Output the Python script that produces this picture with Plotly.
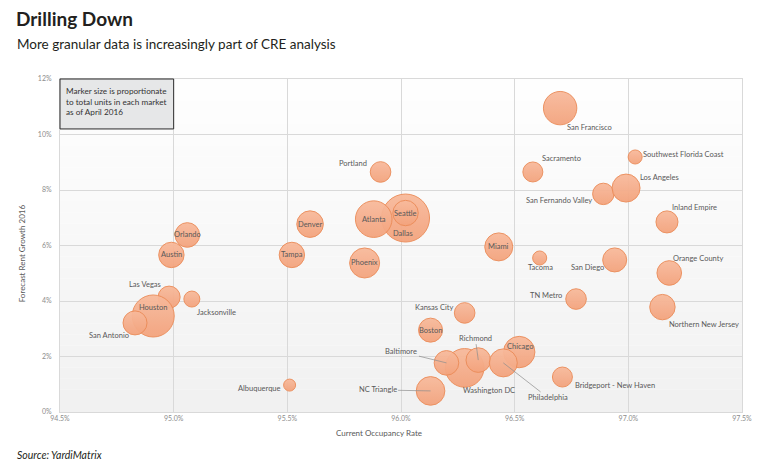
import plotly.graph_objects as go

# market data
markets = ["San Francisco", "Southwest Florida Coast", "Sacramento", "San Fernando Valley",
           "Los Angeles", "Inland Empire", "Miami", "Tacoma", "San Diego", "Orange County",
           "TN Metro", "Northern New Jersey", "Kansas City", "Boston", "Chicago",
           "Washington DC", "Baltimore", "Richmond", "Philadelphia", "Bridgeport - New Haven",
           "NC Triangle", "Albuquerque", "Las Vegas", "Houston", "San Antonio", "Jacksonville",
           "Austin", "Orlando", "Tampa", "Denver", "Phoenix", "Dallas", "Atlanta", "Seattle",
           "Portland"]
occupancy = [96.70, 97.03, 96.58, 96.89,
             96.99, 97.17, 96.43, 96.61, 96.94, 97.18,
             96.77, 97.15, 96.28, 96.13, 96.52,
             96.28, 96.20, 96.34, 96.45, 96.71,
             96.13, 95.51, 94.98, 94.91, 94.83, 95.08,
             94.99, 95.06, 95.52, 95.60, 95.84, 96.02, 95.88, 96.02,
             95.91]
rent_growth = [10.95, 9.19, 8.65, 7.86,
               8.07, 6.85, 5.95, 5.55, 5.48, 5.01,
               4.07, 3.78, 3.57, 2.95, 2.16,
               1.59, 1.77, 1.87, 1.77, 1.26,
               0.76, 0.97, 4.14, 3.46, 3.21, 4.07,
               5.66, 6.38, 5.66, 6.77, 5.37, 6.99, 6.95, 7.17,
               8.65]
units_k = [418, 74, 150, 172,
           294, 182, 294, 74, 216, 227,
           159, 242, 159, 216, 370,
           559, 227, 227, 294, 150,
           307, 54, 182, 662, 216, 96,
           242, 227, 242, 265, 338, 864, 502, 242,
           159]

x_ticks = [94.5, 95.0, 95.5, 96.0, 96.5, 97.0, 97.5]
y_ticks = [0, 2, 4, 6, 8, 10, 12]

# label placement: (xanchor, xshift, yshift) in px
label_pos = {
    "San Francisco": ("left", 5, -19), "Southwest Florida Coast": ("left", 6, 2),
    "Sacramento": ("left", 7, 13), "San Fernando Valley": ("right", -9, -7),
    "Los Angeles": ("left", 12, 11), "Inland Empire": ("left", 3, 14),
    "Miami": ("center", 0, 0), "Tacoma": ("center", 1, -10),
    "San Diego": ("right", -9, -8), "Orange County": ("left", 2, 14),
    "TN Metro": ("right", -12, 4), "Northern New Jersey": ("left", 5, -17),
    "Kansas City": ("right", -9, 5), "Boston": ("center", 0, 0),
    "Chicago": ("center", 1, 6), "Washington DC": ("center", 24, -23),
    "Bridgeport - New Haven": ("left", 11, -8), "Albuquerque": ("right", -7, -3),
    "Las Vegas": ("right", -6, 13), "Houston": ("center", 0, 8),
    "San Antonio": ("right", -4, -13), "Jacksonville": ("left", 3, -13),
    "Austin": ("center", 0, 0), "Orlando": ("center", 0, 0), "Tampa": ("center", 0, 0),
    "Denver": ("center", 0, 0), "Phoenix": ("center", 0, 0), "Dallas": ("center", -3, -15),
    "Atlanta": ("center", 0, 0), "Seattle": ("center", 0, 0), "Portland": ("right", -12, 8),
}
# labels with leader lines: (ax, ay) in px, screen direction
leader_pos = {
    "Baltimore": (-45, -11), "Richmond": (-3, -22),
    "Philadelphia": (45, 35), "NC Triangle": (-53, -1),
}

label_font = dict(family="Lato", size=7.5, color="#595959")

# page has an 8px body margin, so the figure is drawn 8px smaller and offset
W, H = 756, 461

fig = go.Figure()

fig.add_trace(go.Scatter(
    x=occupancy, y=rent_growth, mode="markers",
    marker=dict(size=units_k, sizemode="area", sizeref=0.75,
                color="#F8BA9C", opacity=0.95,
                gradient=dict(type="vertical", color="#F3A37D"),
                line=dict(color="#EC8D5A", width=1)),
    hoverinfo="skip", showlegend=False,
))

annos = []
for i, m in enumerate(markets):
    if m in leader_pos:
        ax, ay = leader_pos[m]
        annos.append(dict(x=occupancy[i], y=rent_growth[i], text=m, showarrow=True,
                          arrowhead=0, arrowwidth=0.7, arrowcolor="#8c8c8c",
                          ax=ax, ay=ay, font=label_font))
    else:
        xa, dx, dy = label_pos[m]
        annos.append(dict(x=occupancy[i], y=rent_growth[i], text=m, showarrow=False,
                          xanchor=xa, yanchor="middle", xshift=dx, yshift=dy,
                          font=label_font))

# note box
annos.append(dict(xref="x domain", yref="y domain", x=0.006, y=0.985, xanchor="left",
                  yanchor="top", align="left", showarrow=False,
                  text="Marker size is proportionate<br>to total units in each market<br>as of April 2016",
                  font=dict(family="Lato", size=8.2, color="#333333")))
# subtitle, source, axis titles
annos.append(dict(xref="paper", yref="paper", x=-45 / 685, y=1.105, xanchor="left",
                  yanchor="middle", showarrow=False,
                  text="More granular data is increasingly part of CRE analysis",
                  font=dict(family="Lato", size=13.5, color="#231F20")))
annos.append(dict(xref="paper", yref="paper", x=-45 / 685, y=-0.129, xanchor="left",
                  yanchor="middle", showarrow=False, text="<i>Source: YardiMatrix</i>",
                  font=dict(family="Lato", size=10.5, color="#231F20")))
annos.append(dict(xref="paper", yref="paper", x=(380 - 60) / 685, y=-0.063,
                  xanchor="center", yanchor="middle", showarrow=False,
                  text="Current Occupancy Rate",
                  font=dict(family="Lato", size=8, color="#595959")))
annos.append(dict(xref="paper", yref="paper", x=-38 / 685, y=0.477, textangle=-90,
                  xanchor="center", yanchor="middle", showarrow=False,
                  text="Forecast Rent Growth 2016",
                  font=dict(family="Lato", size=8, color="#595959")))

# plot background: light vertical gradient white -> grey
shapes = []
n = 30
for k in range(n):
    g = int(255 - 14 * (k + 0.5) / n)
    shapes.append(dict(type="rect", xref="x domain", yref="y domain",
                       x0=0, x1=1, y0=1 - (k + 1) / n, y1=1 - k / n,
                       fillcolor=f"rgb({g},{g},{g})", line=dict(width=0), layer="below"))
shapes.append(dict(type="rect", xref="x domain", yref="y domain",
                   x0=0, x1=1 / 6, y0=10.2 / 12, y1=1, fillcolor="#E6E7E8",
                   line=dict(color="#2b2b2b", width=1), layer="above"))

fig.update_layout(
    width=W, height=H,
    margin=dict(l=52, r=19, t=71, b=57),
    paper_bgcolor="white", plot_bgcolor="white",
    title=dict(text="<b>Drilling Down</b>", x=8 / W, xanchor="left",
               y=1 - 11 / H, yanchor="middle",
               font=dict(family="Lato", size=19, color="#231F20")),
    annotations=annos, shapes=shapes,
)
fig.update_xaxes(range=[94.5, 97.5], tickvals=x_ticks,
                 ticktext=[f"{v:.1f}%" for v in x_ticks],
                 showgrid=True, gridcolor="#D9D9D9", gridwidth=1,
                 showline=True, linecolor="#D9D9D9", mirror=True, zeroline=False,
                 ticks="", tickfont=dict(family="Lato", size=7, color="#8c8c8c"))
fig.update_yaxes(range=[0, 12], tickvals=y_ticks,
                 ticktext=[f"{v}%" for v in y_ticks],
                 showgrid=True, gridcolor="#D9D9D9", gridwidth=1,
                 showline=True, linecolor="#D9D9D9", mirror=True, zeroline=False,
                 ticks="", ticklabelstandoff=6,
                 tickfont=dict(family="Lato", size=7, color="#8c8c8c"))

fig.write_html("out.html")
